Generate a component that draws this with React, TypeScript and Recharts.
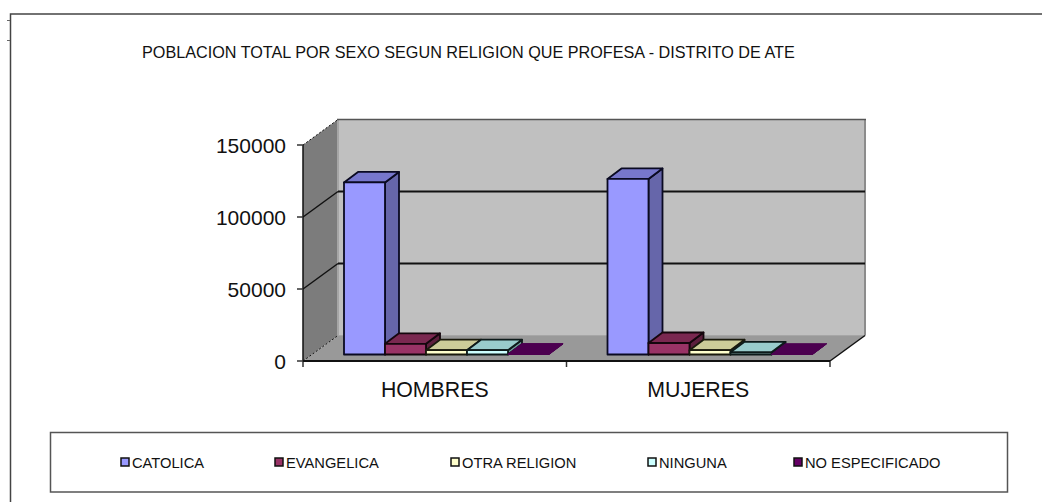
import { BarChart, Bar, XAxis, YAxis } from "recharts";

const categories = ["HOMBRES", "MUJERES"];
const catolica = [119500, 121900];
const evangelica = [7400, 8000];
const otraReligion = [3000, 3000];
const ninguna = [3000, 1500];
const noEspecificado = [300, 200];
const yTicks = [0, 50000, 100000, 150000];

const title = "POBLACION TOTAL POR SEXO SEGUN RELIGION QUE PROFESA - DISTRITO DE ATE";

const data = categories.map((name, i) => ({
  name,
  catolica: catolica[i],
  evangelica: evangelica[i],
  otraReligion: otraReligion[i],
  ninguna: ninguna[i],
  noEspecificado: noEspecificado[i],
}));

const FONT = "'Liberation Sans', Arial, sans-serif";

// plot rectangle = the front plane of the fake 3D box
const LEFT = 303;
const RIGHT = 830;
const TOP = 145;
const BOTTOM = 361;
const DEPTH_X = 35;
const DEPTH_Y = -25.5;

type SeriesDef = {
  key: string;
  label: string;
  front: string;
  top: string;
  side: string;
  stroke: string;
  legendX: number;
};

const seriesDefs: SeriesDef[] = [
  { key: "catolica", label: "CATOLICA", front: "#9999ff", top: "#7777cc", side: "#6666aa", stroke: "#0a0a22", legendX: 121 },
  { key: "evangelica", label: "EVANGELICA", front: "#993366", top: "#7a2850", side: "#5c1f3d", stroke: "#14060d", legendX: 275 },
  { key: "otraReligion", label: "OTRA RELIGION", front: "#ffffcc", top: "#cccc99", side: "#99996f", stroke: "#1a1a0d", legendX: 451 },
  { key: "ninguna", label: "NINGUNA", front: "#ccffff", top: "#99cccc", side: "#6f9999", stroke: "#0d1a1a", legendX: 648 },
  { key: "noEspecificado", label: "NO ESPECIFICADO", front: "#660066", top: "#4c0050", side: "#33003a", stroke: "#4c0050", legendX: 794 },
];

// bars sit in the middle of the box depth
const BAR_DX = 11;
const BAR_DY = -6.5;
const EXT_DX = 14;
const EXT_DY = -10.5;

function Bar3D(props: any) {
  const { x, y, width, height, def } = props;
  const l = x + BAR_DX;
  const r = l + width;
  const t = y + BAR_DY;
  const b = t + height;
  const thin = def.key === "noEspecificado";
  const common = { stroke: def.stroke, strokeWidth: thin ? 1 : 1.8, strokeLinejoin: "round" as const };
  return (
    <g>
      <polygon points={`${r},${t} ${r + EXT_DX},${t + EXT_DY} ${r + EXT_DX},${b + EXT_DY} ${r},${b}`} fill={def.side} {...common} />
      <polygon points={`${l},${t} ${l + EXT_DX},${t + EXT_DY} ${r + EXT_DX},${t + EXT_DY} ${r},${t}`} fill={def.top} {...common} />
      <rect x={l} y={t} width={width} height={height} fill={def.front} {...common} />
    </g>
  );
}

function tickY(v: number) {
  return BOTTOM - ((BOTTOM - TOP) * v) / 150000;
}

function Box() {
  const backL = LEFT + DEPTH_X;
  const backR = RIGHT + DEPTH_X;
  const midX = (LEFT + RIGHT) / 2;
  return (
    <g>
      {/* outer frame */}
      <path d="M10.5,502 V14 H1042" fill="none" stroke="#444" strokeWidth={1.5} />
      <path d="M7,20.5 H10 M7,40.5 H10" stroke="#666" />
      <polygon points={`${LEFT},${TOP} ${backL},${TOP + DEPTH_Y} ${backL},${BOTTOM + DEPTH_Y} ${LEFT},${BOTTOM}`} fill="#7c7c7c" />
      <rect x={backL} y={TOP + DEPTH_Y} width={RIGHT - LEFT} height={BOTTOM - TOP} fill="#c0c0c0" />
      <polygon points={`${LEFT},${BOTTOM} ${backL},${BOTTOM + DEPTH_Y} ${backR},${BOTTOM + DEPTH_Y} ${RIGHT},${BOTTOM}`} fill="#999999" />
      <path d={`M${backL},${BOTTOM + DEPTH_Y} V${TOP + DEPTH_Y}`} stroke="#a6a6a6" strokeWidth={2} />
      <path d={`M${backR},${BOTTOM + DEPTH_Y} V${TOP + DEPTH_Y}`} stroke="#8c8c8c" strokeWidth={2} />
      <path d={`M${backL},${BOTTOM + DEPTH_Y} H${backR}`} stroke="#a6a6a6" strokeWidth={1} />
      <path d={`M${backL - 1},${TOP + DEPTH_Y} H${backR + 1}`} stroke="#555" strokeWidth={1.5} />
      {yTicks.map((v) => {
        const y = tickY(v);
        const edge = v === 0 || v === 150000;
        return (
          <g key={v}>
            <line x1={LEFT} y1={y} x2={backL} y2={y + DEPTH_Y} stroke="#111" strokeWidth={edge ? 1 : 1.5} strokeDasharray={edge ? "2 2" : undefined} />
            {!edge && <line x1={backL} y1={y + DEPTH_Y} x2={backR} y2={y + DEPTH_Y} stroke="#111" strokeWidth={2} />}
          </g>
        );
      })}
      <line x1={RIGHT} y1={BOTTOM} x2={backR} y2={BOTTOM + DEPTH_Y} stroke="#111" strokeWidth={1.5} />
      {/* category separators under the floor */}
      {[LEFT, midX, RIGHT].map((x) => (
        <line key={x} x1={x} y1={BOTTOM} x2={x} y2={BOTTOM + 6} stroke="#333" strokeWidth={1.5} />
      ))}
      <text x={142} y={57.5} fontFamily={FONT} fontSize={16.2} fill="#111">
        {title}
      </text>
    </g>
  );
}

function LegendBox() {
  return (
    <g fontFamily={FONT} fontSize={14.7} fill="#111">
      <rect x={50.5} y={432.5} width={957} height={59.5} fill="#fff" stroke="#555" strokeWidth={1.5} />
      {seriesDefs.map((d) => (
        <g key={d.key}>
          <rect x={d.legendX} y={458} width={8} height={8} fill={d.front} stroke="#111" strokeWidth={1.5} />
          <text x={d.legendX + 11} y={467.5}>
            {d.label}
          </text>
        </g>
      ))}
    </g>
  );
}

export default function App() {
  return (
    <div style={{ position: "absolute", left: 0, top: 0, width: 1042, height: 502, background: "#fff" }}>
      <BarChart
        width={1042}
        height={502}
        data={data}
        margin={{ top: TOP, right: 1042 - RIGHT, bottom: 101, left: LEFT - 90 }}
        barCategoryGap={30}
        barGap={0}
      >
        <Box />
        <XAxis
          dataKey="name"
          height={40}
          tickLine={false}
          axisLine={{ stroke: "#111", strokeWidth: 2 }}
          tick={{ fontFamily: FONT, fontSize: 21.3, fill: "#111" }}
          tickMargin={15}
          interval={0}
        />
        <YAxis
          width={90}
          domain={[0, 150000]}
          ticks={yTicks}
          tickSize={6}
          tickMargin={11}
          axisLine={{ stroke: "#111", strokeWidth: 1.5 }}
          tickLine={{ stroke: "#333", strokeWidth: 1.5 }}
          tick={{ fontFamily: FONT, fontSize: 21, fill: "#111", dy: 1 }}
        />
        {seriesDefs.map((d) => (
          <Bar
            key={d.key}
            dataKey={d.key}
            isAnimationActive={false}
            shape={(p: any) => <Bar3D {...p} def={d} />}
          />
        ))}
        <LegendBox />
      </BarChart>
    </div>
  );
}
